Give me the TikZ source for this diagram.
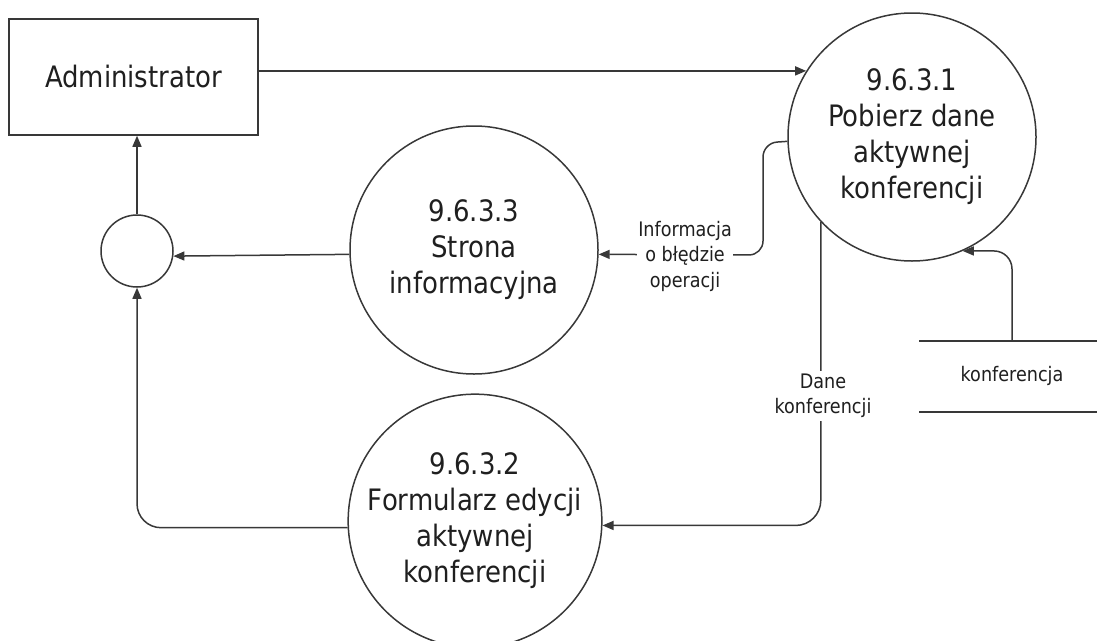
\documentclass[tikz,border=0pt]{standalone}
\usepackage{fontspec}
\setmainfont[FakeStretch=0.88]{DejaVu Sans}
\usetikzlibrary{arrows.meta}
\tikzset{
  ln/.style={draw=black!78, line width=1.5pt},
  arr/.style={ln, -{Triangle[length=11pt,width=9pt]}},
  proc/.style={circle, ln, minimum size=#1, inner sep=0pt, align=center, text=black!88,
    font=\fontsize{29.5}{36}\selectfont},
  ent/.style={rectangle, ln, minimum width=249pt, minimum height=116pt, text=black!88,
    font=\fontsize{29.5}{36}\selectfont},
  lbl/.style={fill=white, inner sep=1pt, align=center, text=black!88,
    font=\fontsize{20}{25.5}\selectfont},
}
\begin{document}
\begin{tikzpicture}[x=1pt,y=-1pt]
\useasboundingbox (0,0) rectangle (1097,640);
\node[ent] (admin) at (133.5,77) {Administrator};
\node[proc=248pt] (p1) at (912,137) {9.6.3.1\\Pobierz dane\\aktywnej\\konferencji};
\node[proc=248pt] (p3) at (474,250) {9.6.3.3\\Strona\\informacyjna};
\node[proc=246pt] (p2) at (475,521) {9.6.3.2\\Formularz edycji\\aktywnej\\konferencji};
\node[circle, ln, minimum size=72pt, inner sep=0pt] (j) at (137,251) {};
% data store
\coordinate (stTL) at (919,341);
\coordinate (stTR) at (1097,341);
\coordinate (stBL) at (919,412);
\coordinate (stBR) at (1097,412);
\coordinate (stIn) at (1012,341);
\draw[ln] (stTL) -- (stTR);
\draw[ln] (stBL) -- (stBR);
\node[text=black!88, font=\fontsize{20}{25.5}\selectfont] (store) at (1012,376) {konferencja};
% connectors
\draw[arr] (admin.east |- p1.148.9) -- (p1.148.9);
\coordinate (c1) at (763,143);
\coordinate (c2) at (763,255);
\draw[arr, rounded corners=14pt] (p1.182.8) -- (c1) -- (c2) -- (p3.-2.3);
\node[lbl] (l1) at (685,256) {Informacja\\o błędzie\\operacji};
\draw[arr] (p3.182.8) -- (j.-8);
\draw[arr] (j.north) -- (j.north |- admin.south);
\draw[arr, rounded corners=24pt] (p2.183.3) -| (j.south);
\draw[arr, rounded corners=25pt] (p1.223.5) |- (p2.-2.8);
\node[lbl, inner sep=3pt] (l2) at (823,396) {Dane\\konferencji};
\draw[arr, rounded corners=18pt] (stIn) |- (p1.-66.75);
\end{tikzpicture}
\end{document}
